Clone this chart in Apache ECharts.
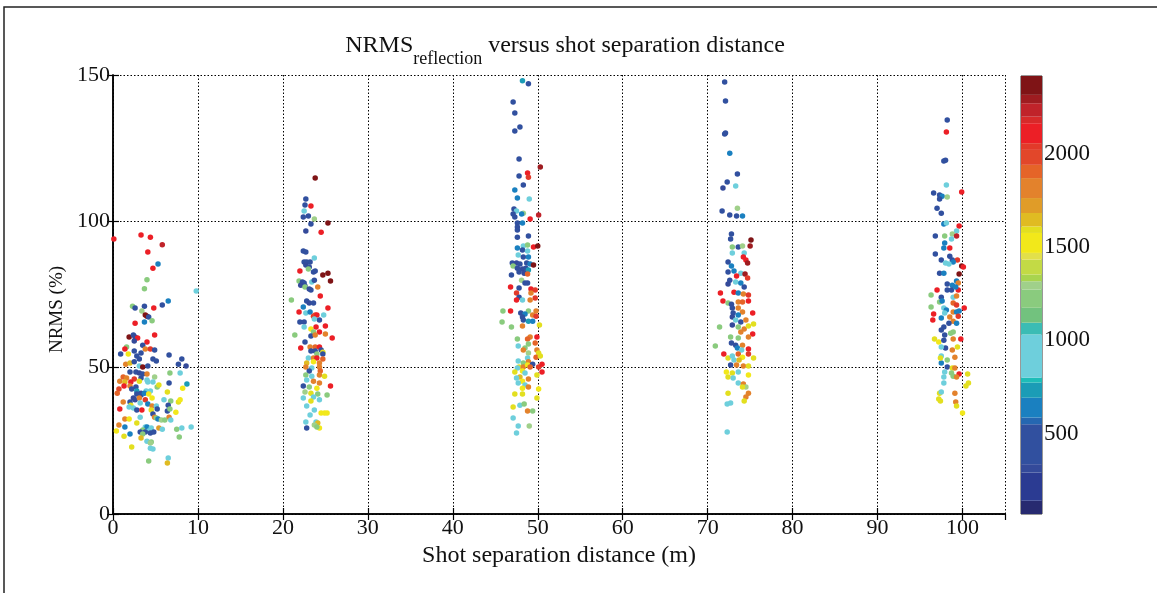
<!DOCTYPE html>
<html><head><meta charset="utf-8">
<script src="https://cdn.jsdelivr.net/npm/echarts@6/dist/echarts.min.js"></script>
<style>html,body{margin:0;padding:0;background:#fff}#c{width:1157px;height:593px}</style>
</head><body><div id="c"></div>
<script>
// ---- data: [distance (m), NRMS (%), colour value] ----
var cluster0 = [
[0.1,94,2100],[3.3,95.3,2100],[4.4,94.6,2100],[5.8,92,2200],[4.1,89.5,2100],[5.3,85.4,650],[4.7,84,2100],[4.0,80,1200],[3.7,77,1250],[9.8,76.2,850],[6.5,72.8,650],[5.8,71.4,550],[2.3,71,1250],[2.6,70.4,400],[3.7,71,450],[3.4,69.4,1300],[4.8,70.4,2100],[3.8,68,2350],[4.0,67.6,2350],[4.2,67.3,550],[4.6,66,1200],[3.7,65.6,650],[2.6,65.2,2100],[4.9,61.2,2100],[1.9,60.5,2400],[2.4,61.2,400],[2.6,60.5,300],[2.9,60.1,2100],[2.5,59.1,300],[4.0,58.8,2100],[3.5,57.7,500],[1.6,57.1,1250],[1.4,56.4,2100],[3.8,56.4,1850],[4.4,56.4,2050],[4.9,56,450],[2.5,55.7,500],[3.3,55,500],[1.8,54.7,1500],[0.9,54.7,400],[2.8,54,450],[6.6,54.3,400],[3.1,53,400],[4.7,53,400],[5.1,52.3,350],[8.1,53,400],[7.7,51.2,400],[8.6,50.6,300],[1.5,51.2,1800],[2.0,51.6,1650],[2.5,52,500],[3.1,50.6,950],[3.5,50.2,2350],[4.1,50.6,400],
[2.0,48.5,550],[2.7,48.5,400],[3.1,48.2,300],[3.5,47.8,400],[4.0,47.8,1850],[6.7,48.2,1200],[7.9,48.2,900],[1.2,46.8,1900],[1.6,46.5,1850],[2.5,46.1,2050],[3.3,46.5,350],[4.0,45.8,900],[4.9,46.8,1300],[0.8,45.4,1800],[1.4,45.1,1650],[2.1,45.1,2100],[3.1,45.4,1600],[4.1,45.1,850],[4.7,45.1,1000],[6.6,44.8,500],[8.7,44.4,750],[1.3,43.7,2100],[2.0,43.7,1850],[2.7,43.4,550],[5.2,43.4,1250],[5.4,44.1,1600],[8.2,43,1550],[0.7,42.7,2000],[2.2,42.7,400],[2.8,42,700],[3.3,41.3,500],[3.9,42,1000],[4.4,42,900],[6.4,41.7,1600],[0.5,41.3,1900],[2.8,41,400],[3.3,40.7,500],[3.7,41.3,600],[4.2,41,1550],[4.6,39.6,1550],[2.4,39.6,300],[2.6,39,300],[3.1,39.6,1850],[3.8,39,2050],[6.0,39,900],[6.8,38.6,1200],[7.7,38.3,1600],[7.9,39,1550],[1.2,38.3,1850],[2.0,38.3,400],[2.1,37.2,1600],[3.2,37.9,850],[4.1,37.6,600],[4.6,36.9,1850],[5.1,36.9,900],[6.5,37.2,500],[1.9,36.6,900],[2.4,36.2,850],[2.8,35.5,350],[3.4,35.5,2100],[4.5,35.5,1600],[0.8,35.9,2100],[5.2,35.9,450],[6.4,35.2,400],[7.4,34.8,1550],[6.7,35.9,1250],[4.7,34.2,400],[6.6,33.1,1800],[4.9,33.1,1850],[1.4,32.5,1850],[1.9,32.5,1550],[3.2,33.1,900],[5.1,32.8,1200],[5.3,32.5,600],[5.7,32.1,1300],[6.1,32.1,1250],[6.8,32.1,850],[2.8,31.1,1600],[0.7,30.4,1850],[1.4,29.7,600],[3.8,29.7,900],[4.0,29.7,650],[4.5,29.4,850],[5.4,29.4,1750],[5.8,29,900],[7.5,29,1200],[8.1,29.4,850],[9.2,29.7,850],[0.4,28.4,1550],[3.5,28.7,1200],[4.2,28.4,800],[3.2,28,400],[3.8,28,400],[4.4,27.7,400],[4.8,28,350],[3.5,27.3,1250],[2.0,27.3,650],[1.3,26.6,1600],[7.8,26.3,1250],[3.3,26,1650],[4.0,24.9,900],[4.5,24.6,1200],[2.2,22.9,1600],[4.4,24.3,1300],[4.4,22.5,900],[4.7,22.2,850],[6.5,19.1,850],[6.4,17.4,1650],[4.2,18.1,1200]
];
var cluster23 = [
[23.8,114.8,2350],[22.7,107.6,400],[22.6,105.6,400],[23.3,105.2,2100],[22.5,103.5,900],[23.0,101.8,400],[22.4,101.5,550],[23.7,100.8,1300],[23.3,99.1,400],[25.3,99.4,2350],[22.7,96.7,300],[24.5,96.3,2150],[22.4,89.9,400],[22.7,89.5,400],[23.7,87.5,800],[22.5,86.1,400],[22.8,86.1,350],[23.2,86.1,500],[22.7,85.1,300],[23.1,84.4,400],[22.0,83,2100],[23.0,83.7,1250],[23.6,82.7,400],[23.8,83,400],[25.3,82.3,2350],[24.7,81.7,2350],[25.6,79.6,2350],[21.9,79.6,1250],[22.3,79.3,400],[22.5,78.9,400],[23.4,79.3,800],[23.7,79.9,450],[22.1,78.2,300],[22.6,77.9,400],[22.6,77.6,1200],[23.1,76.9,300],[23.3,76.5,350],[24.1,77.6,1850],[21.0,73.1,1250],[24.4,74.5,2100],[22.8,72.8,400],[23.1,72.1,300],[23.6,72.1,450],[22.4,70.7,600],[21.9,69,2100],[22.7,68.7,850],[23.2,69,600],[23.6,67.6,2050],[23.8,68,1950],[24.0,68,2100],[24.3,66.3,400],[24.8,68,850],[25.3,70.4,2100],[23.7,66.6,800],[22.0,65.6,400],[22.5,65.6,450],[22.5,63.9,900],[23.3,63.2,1550],[23.9,63.9,2100],[23.6,62.2,1250],[25.0,64.2,2100],[24.3,62.2,2100],[25.0,61.5,1850],[21.4,61.2,1200],[23.3,60.8,400],[23.8,61.2,1800],[25.8,60.1,2100],[22.6,58.8,450],[22.1,56.7,2100],[23.2,57.1,1850],[23.8,57.1,1900],[24.3,57.1,2100],[24.5,56,500],[23.3,55.7,400],[23.8,55.7,400],[24.7,55.3,1600],[24.0,54.7,1250],[24.7,54.7,400],[23.0,53.3,850],[23.6,53.3,1800],[24.0,53.3,2100],[24.7,53,1900],[22.8,51.6,1650],[23.6,52,1550],[24.3,51.6,1800],[22.7,50.2,1850],[23.4,49.9,900],[24.3,50.2,1800],[23.1,48.9,400],[24.4,48.9,1900],[22.7,47.5,1250],[23.4,47.1,900],[24.3,47.5,1850],[24.9,47.1,1600],[22.8,45.8,850],[23.6,45.4,1800],[24.3,44.8,1850],[25.6,43.7,2100],[22.4,43.7,500],[23.1,43.4,1200],[24.0,43,1550],[22.6,41.7,1300],[23.3,41.3,1600],[24.1,41,1250],[25.2,40.7,1250],[23.6,40,900],[22.4,39.6,850],[24.3,39,850],[23.3,38.6,1600],[22.8,36.9,900],[23.7,35.5,800],[24.5,34.5,1550],[24.9,34.5,1550],[25.2,34.5,1550],[23.2,33.8,900],[23.9,31.4,850],[22.7,31.4,900],[24.1,31.1,1650],[23.7,30.4,1300],[22.8,29.4,500],[24.3,29.4,1550],[24.0,29.7,1250]
];
var cluster48 = [
[48.2,148,700],[48.9,147,400],[47.1,140.8,400],[47.3,137,450],[47.9,132.2,400],[47.3,130.9,400],[47.8,121.3,500],[48.8,116.5,2100],[50.3,118.6,2300],[48.9,115.1,2050],[47.8,115.5,550],[48.3,112.4,400],[47.3,110.7,600],[47.6,108,650],[49.0,107.6,850],[47.2,104.2,400],[47.5,103.5,900],[48.3,102.8,1300],[47.1,102.5,400],[48.1,102.5,600],[47.3,101.5,350],[49.1,100.8,2100],[50.1,102.2,2250],[47.6,99.4,500],[48.2,99.4,600],[47.6,98.1,350],[47.6,97,400],[47.6,94.6,450],[48.9,95,500],[48.3,91.6,850],[48.8,91.9,1250],[49.5,91.2,2100],[50.0,91.6,2350],[47.6,90.9,650],
[48.2,90.2,400],[48.8,89.9,850],[47.7,88.5,800],[48.3,87.8,400],[48.9,87.8,600],[47.0,85.8,350],[47.5,85.8,300],[47.9,85.4,400],[48.7,85.8,500],[49.1,85.4,650],[49.5,85.1,2350],[47.1,84.7,1250],[47.6,84,350],[48.2,83.7,300],[48.6,84,400],[48.9,83.4,750],[47.8,82.7,400],[48.4,82.3,300],[48.8,82,1900],[46.9,81.7,400],[48.1,79.9,1300],[48.5,78.9,500],[48.8,78.9,500],[46.8,77.6,2100],[47.8,77.2,500],[49.2,76.9,2100],[49.7,76.5,2050],[49.2,75.5,1850],[47.5,75.5,2050],[49.7,73.8,2050],[47.8,74.1,400],[49.1,73.1,1850],[47.5,73.1,2100],[48.2,73.1,850],[45.9,69.4,1250],[46.8,69.4,2100],[48.0,68.7,400],[48.9,69.4,1250],[49.8,69.4,1800],[48.5,68.3,600],[48.2,67.3,450],[49.4,68,1850],[49.8,67.6,2050],[45.8,65.6,1250],[48.3,66.3,400],[48.9,65.9,700],[49.4,65.9,600],[50.2,64.6,1600],[46.9,63.9,1250],[48.2,64.2,1850],[49.1,60.5,1850],[49.9,60.5,2100],[48.8,59.8,1900],[47.6,59.8,1250],[49.7,58.4,1900],[48.9,58.1,1200],[47.7,57.4,850],[48.5,56.7,1250],[48.3,56,1850],[49.9,56,1850],[48.9,55,1300],[50.1,55,1600],[49.8,53.6,1900],[50.3,54,1600],[48.8,53.3,800],[47.7,52.3,900],[48.9,52,1850],[48.3,51.6,1250],[47.8,50.2,1600],[48.3,50.2,1800],[48.8,50.9,1550],[49.4,51.2,450],[50.1,50.2,2050],[50.5,51.2,2100],[49.1,50.2,1900],[47.6,49.9,900],[47.3,48.5,1600],[48.2,48.9,1550],[50.5,48.5,2100],[48.5,48.2,900],[49.9,47.5,1600],[47.9,46.8,1650],[47.5,46.5,850],[48.9,46.1,1800],[48.2,45.4,1550],[47.7,44.8,850],[48.5,44.1,900],[48.2,43,1550],[48.9,43.4,1850],[50.1,42.7,1550],[47.3,41,1600],[48.2,41,1600],[49.9,39.6,1600],[47.1,36.6,1600],[47.9,37.2,850],[48.4,37.6,1250],[48.8,35.2,1850],[49.4,35.2,1250],[47.1,32.8,850],[47.7,30.1,900],[49.0,30.1,1300],[47.5,27.7,900]
];
var cluster73 = [
[72.0,147.6,400],[72.1,141.1,400],[72.0,129.8,450],[72.1,130.2,400],[72.6,123.3,650],[73.5,116.2,500],[73.3,112.1,850],[72.3,113.4,550],[71.8,111.4,300],[71.7,103.5,500],[73.5,104.5,1300],[72.6,102.2,350],[73.4,101.8,550],[74.1,101.8,650],
[72.8,95.7,400],[72.7,94,400],[75.1,93.6,2350],[72.9,91.2,1250],[73.6,91.2,400],[74.1,91.6,1300],[75.0,91.6,2300],[72.9,89.2,850],[74.3,89.2,800],[74.2,87.8,2100],[74.5,86.8,2150],[72.4,86.1,400],[74.7,85.8,2300],[72.8,84.7,600],[72.4,82.7,400],[73.1,83,600],[73.9,82.3,900],[74.4,82,2300],[73.4,81.3,2100],[74.7,80.6,2050],[72.6,79.9,450],[73.3,79.3,900],[72.4,78.6,300],[73.9,78.9,600],[74.3,77.6,400],[73.1,75.8,2100],[71.5,75.5,2100],[73.6,75.5,650],[74.2,75.2,1850],[74.8,74.8,2050],[71.8,72.8,2100],[72.4,72.1,1250],[72.8,71.7,350],[73.6,72.4,1850],[74.1,72.4,1900],[74.8,72.8,2100],[72.9,70.4,400],[73.6,70.4,1800],[74.1,69,1850],[73.0,68.7,500],[73.6,68,600],[75.3,68.7,2100],[72.9,67.3,300],[73.3,66.3,850],[73.9,65.6,450],[74.5,66.3,1850],[72.9,64.6,300],[73.6,63.9,1250],[71.4,63.9,1250],[74.3,63.2,1850],[74.8,64.2,1600],[75.4,64.9,1600],[73.9,62.2,1850],[75.3,61.5,2100],[72.7,60.5,1250],[73.6,60.1,1200],[74.8,60.5,1850],[72.8,58.4,400],[73.3,57.7,500],[70.9,57.4,1250],[74.1,57.7,1850],[73.5,56.7,600],[74.0,56,850],[74.8,56.4,2100],[71.9,54.7,2100],[72.4,53.3,1600],[72.9,54,900],[73.6,54.7,1900],[74.1,53.6,1550],[74.8,54.7,2050],[73.1,52.6,900],[73.7,52.6,1650],[75.4,53.3,1600],[72.7,50.9,400],[73.4,50.9,1850],[74.2,50.6,1800],[74.8,50.6,1600],[72.2,48.5,1550],[72.9,48.2,1600],[73.6,48.5,900],[72.4,46.8,1600],[73.0,46.5,850],[74.8,47.5,1550],[73.6,44.8,900],[74.2,44.4,1800],[74.5,43.4,1300],[74.1,43.4,1600],[72.4,41.3,1600],[74.8,41.3,1850],[74.5,40,1800],[74.3,38.6,1600],[72.3,37.6,900],[72.7,37.9,850],[72.3,28,900]
];
var cluster98 = [
[98.2,134.6,350],[98.1,130.5,2100],[97.8,120.6,350],[98.0,120.9,400],[98.1,112.4,900],[96.6,109.7,550],[97.3,109,400],[97.6,108.6,650],[98.2,108.3,1300],[97.3,107.6,400],[99.9,110,2100],[97.0,104.5,450],[97.5,102.8,400],[97.8,99.1,600],[98.1,99.4,900],[99.6,98.4,2100],[99.3,96.7,800],[96.8,95,400],[97.9,95,1250],[98.8,95.7,1300],[99.3,95,2250],[98.7,94,850],[97.9,92.6,650],[97.8,90.9,600],[98.5,90.9,2100],[96.8,88.8,400],[98.5,88.1,400],[97.5,86.8,500],[98.8,86.8,500],[99.4,86.8,2050],[98.0,85.8,850],[98.9,86.1,650],[98.4,85.4,800],[99.9,84.7,2350],[100.1,84.4,2100],[97.3,82.3,400],[97.8,82.3,600],[99.6,82,2350],[99.3,79.6,650],[98.2,78.6,400],[98.8,78.2,600],[99.5,78.9,1850],[97.0,76.5,2100],[98.2,76.5,500],[98.7,76.5,450],[99.5,76.5,2100],[99.2,77.6,600],[96.3,74.8,1250],[97.5,74.1,400],[98.9,74.1,900],[99.3,74.5,1850],[97.3,72.4,1250],[97.6,72.8,600],[98.9,72.1,1900],[99.3,71.4,2050],[96.3,70.7,1250],[97.8,70.4,850],[98.1,69.7,600],[100.2,70.4,2100],[98.9,69,1850],[99.3,69,600],[99.6,69.4,650],[97.9,68.7,850],[96.6,68.3,2100],[97.5,67,600],[98.5,67.3,1850],[99.5,67.6,2050],[96.5,66.3,2100],[98.9,65.9,1800],[98.4,65.2,550],[99.3,65.2,650],[97.8,63.9,400],[97.5,62.9,550],[98.9,62.2,1250],[98.6,61.8,1200],[97.9,61.2,400],[99.8,59.8,2100],[98.9,59.8,1850],[96.7,59.8,1600],[97.2,58.8,1550],[97.8,59.4,400],[99.4,57.1,1600],[98.0,56.7,500],[98.8,56,1850],[97.5,57.1,900],[99.1,53.6,1850],[97.5,54,850],[98.2,52.6,1250],[97.5,51.6,650],[97.4,53.3,1600],[98.2,50.2,400],[98.8,49.9,1600],[99.1,49.9,1850],[99.6,47.8,2100],[97.9,48.5,900],[98.7,48.2,1250],[98.9,47.1,1200],[97.8,46.8,850],[99.3,46.8,1800],[100.6,47.8,1600],[100.4,43.7,1600],[100.7,44.8,1600],[97.8,44.8,850],[97.3,41.3,1600],[97.5,41.7,850],[99.1,41.3,1850],[97.2,39.3,1600],[97.4,38.6,1600],[99.2,38.3,1850],[99.3,36.9,1600],[100.0,34.5,1550]
];

// ---- colour scale (colour bar bands, ascending) ----
var bandEdges = [70,141,292,337,551,587,693,774,800,1032,1095,1175,1273,1317,1353,1433,1469,1576,1611,1683,1763,1870,1941,2021,2057,2164,2199,2271,2316,2417];
var bandColors = ['#272a70','#2b3b92','#344a9a','#31509f','#2567b1','#1a80c0','#1b9cb6','#1ebdb8','#6ecfdc','#3bbcb4','#72c27e','#8acb7e','#a0d08a','#a8d44e','#c3da45','#e2e04a','#f2e81a','#e3df1f','#e0bb22','#e09c28','#e3822c','#e56428','#e2472a','#e23a2a','#ec1f26','#d72a2a','#c0232a','#9e1c20','#7f1416'];
var colorbarTicks = [500,1000,1500,2000];
var xTicks = {min:0, max:105, interval:10};
var yTicks = {min:0, max:150, interval:50};

var allPoints = cluster0.concat(cluster23, cluster48, cluster73, cluster98);

var FONT = '"Liberation Serif", "Times New Roman", serif';
var pieces = [];
for (var i = 0; i < bandColors.length; i++) {
  pieces.push({gte: bandEdges[i], lt: bandEdges[i+1], color: bandColors[i]});
}
var cbSeries = [];
for (var j = 0; j < bandColors.length; j++) {
  var h = bandEdges[j+1] - (j === 0 ? 0 : bandEdges[j]);
  cbSeries.push({
    type: 'bar', xAxisIndex: 2, yAxisIndex: 2, stack: 'cb', barWidth: '100%',
    silent: true, animation: false,
    itemStyle: {color: bandColors[j]}, data: [h]
  });
}

var chart = echarts.init(document.getElementById('c'), null, {renderer: 'canvas'});
var dotted = {color: '#000', width: 1, type: [1.5, 2]};
var tickStyle = {inside: true, length: 6, lineStyle: {color: '#000', width: 1.2}};
chart.setOption({
  animation: false,
  backgroundColor: '#fff',
  title: {
    left: 560, top: 29, textAlign: 'center',
    text: '{a|NRMS}{b|reflection}{a| versus shot separation distance}',
    textStyle: {
      fontWeight: 'normal',
      rich: {
        a: {fontFamily: FONT, fontSize: 24, fontWeight: 'normal', color: '#111', lineHeight: 24, verticalAlign: 'top'},
        b: {fontFamily: FONT, fontSize: 18, fontWeight: 'normal', color: '#111', lineHeight: 16, padding: [16, 0, 0, 0], verticalAlign: 'top'}
      }
    }
  },
  graphic: [{type: 'rect', shape: {x: 4, y: 7, width: 1170, height: 600}, style: {fill: 'none', stroke: '#222', lineWidth: 1.5}, silent: true}],
  grid: [
    {left: 113, top: 75, width: 892, height: 439, show: false},
    {left: 1021, top: 76, width: 21, height: 438, show: true, borderColor: '#333', borderWidth: 1}
  ],
  visualMap: {type: 'piecewise', show: false, seriesIndex: 0, dimension: 2, pieces: pieces},
  xAxis: [
    {gridIndex: 0, type: 'value', min: xTicks.min, max: xTicks.max, interval: xTicks.interval, position: 'bottom',
     name: 'Shot separation distance (m)', nameLocation: 'middle', nameGap: 25,
     nameTextStyle: {fontFamily: FONT, fontSize: 24, color: '#111'},
     axisLine: {lineStyle: {color: '#000', width: 1.5}},
     axisTick: tickStyle,
     axisLabel: {fontFamily: FONT, fontSize: 22, color: '#111', margin: 3, showMaxLabel: false},
     splitLine: {show: true, lineStyle: dotted}},
    {gridIndex: 0, type: 'value', min: xTicks.min, max: xTicks.max, interval: xTicks.interval, position: 'top',
     axisLine: {lineStyle: {color: '#000', width: 1.5}},
     axisTick: tickStyle,
     axisLabel: {show: false}, splitLine: {show: false}},
    {gridIndex: 1, type: 'category', data: ['c'], show: false}
  ],
  yAxis: [
    {gridIndex: 0, type: 'value', min: yTicks.min, max: yTicks.max, interval: yTicks.interval, position: 'left',
     name: 'NRMS (%)', nameLocation: 'middle', nameGap: 46,
     nameTextStyle: {fontFamily: FONT, fontSize: 19, color: '#111', padding: [0, 30, 0, 0]},
     axisLine: {lineStyle: {color: '#000', width: 1.5}},
     axisTick: tickStyle,
     axisLabel: {fontFamily: FONT, fontSize: 22, color: '#111', margin: 3},
     splitLine: {show: true, lineStyle: dotted}},
    {gridIndex: 0, type: 'value', min: yTicks.min, max: yTicks.max, interval: yTicks.interval, position: 'right',
     axisLine: {lineStyle: {color: '#000', width: 1.5}},
     axisTick: tickStyle,
     axisLabel: {show: false}, splitLine: {show: false}},
    {gridIndex: 1, type: 'value', min: bandEdges[0], max: bandEdges[bandEdges.length - 1], position: 'right',
     axisLine: {show: false},
     axisTick: {show: true, inside: true, length: 3, customValues: colorbarTicks, lineStyle: {color: '#333', width: 1}},
     axisLabel: {show: true, customValues: colorbarTicks, fontFamily: FONT, fontSize: 23, color: '#111', margin: 2,
                 formatter: function (v) { return String(v); }},
     splitLine: {show: false}}
  ],
  series: [
    {type: 'scatter', xAxisIndex: 0, yAxisIndex: 0, symbolSize: 5.5, data: allPoints, itemStyle: {opacity: 1}}
  ].concat(cbSeries)
});
</script>
</body></html>
